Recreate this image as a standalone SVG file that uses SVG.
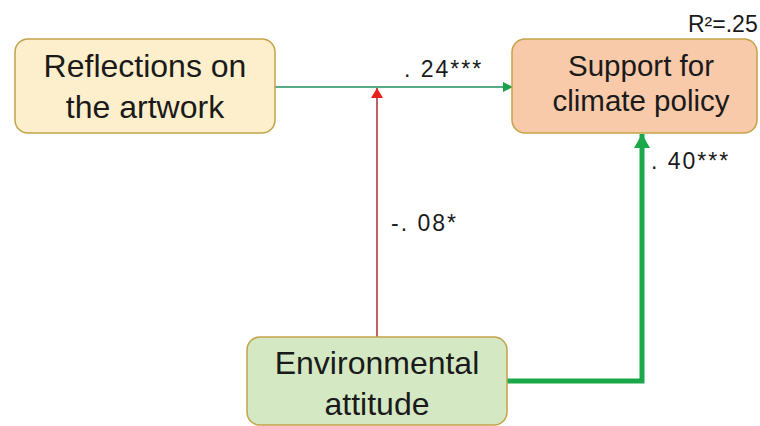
<svg xmlns="http://www.w3.org/2000/svg" width="760" height="426" viewBox="0 0 760 426">
<defs>
<style>
.box{stroke:#c4a24a;stroke-width:1.5}
.t{font-family:"Liberation Sans","Open Sans",Arial,sans-serif;fill:#1a1a1a;text-anchor:middle}
.big{font-size:32px}
.mid{font-size:29.5px}
.lab{font-family:"Liberation Sans","Open Sans",Arial,sans-serif;fill:#1a1a1a;font-size:23px;letter-spacing:2px}
.r2{font-family:"Liberation Sans","Open Sans",Arial,sans-serif;fill:#1a1a1a;font-size:23px}
</style>
<marker id="ag" markerWidth="10" markerHeight="10" refX="9" refY="5" orient="auto" markerUnits="userSpaceOnUse"><path d="M0,0 L10,5 L0,10 Z" fill="#1aa04a"/></marker>
<marker id="ar" markerWidth="10" markerHeight="12" refX="10" refY="6" orient="auto" markerUnits="userSpaceOnUse"><path d="M0,0 L10,6 L0,12 Z" fill="#e8201e"/></marker>
<marker id="agt" markerWidth="14" markerHeight="16" refX="14" refY="8" orient="auto" markerUnits="userSpaceOnUse"><path d="M0,0 L14,8 L0,16 Z" fill="#1aa84a"/></marker>
</defs>
<rect width="760" height="426" fill="#ffffff"/>
<g id="connectors">
<line x1="275" y1="87" x2="512" y2="87" stroke="#1e9060" stroke-width="1.6" marker-end="url(#ag)"/>
<line x1="377" y1="337" x2="377" y2="88" stroke="#b23a3a" stroke-width="1.6" marker-end="url(#ar)"/>
<polyline points="507,381 642,381 642,134" fill="none" stroke="#1aa84a" stroke-width="5" marker-end="url(#agt)"/>
</g>
<g id="reflections">
<rect class="box" x="15" y="39" width="260" height="94" rx="13" fill="#fdefcb"/>
<text class="t big" x="145" y="77">Reflections on</text>
<text class="t big" x="145" y="118">the artwork</text>
</g>
<g id="support">
<rect class="box" x="512" y="39" width="245" height="94" rx="13" fill="#f8caa9"/>
<text class="t mid" x="641" y="76">Support for</text>
<text class="t mid" x="641" y="111">climate policy</text>
<text class="r2" x="688" y="32">R²=.25</text>
</g>
<g id="environmental">
<rect class="box" x="247" y="337" width="260" height="88" rx="13" fill="#d4e8c3"/>
<text class="t big" x="377" y="374">Environmental</text>
<text class="t big" x="377" y="415">attitude</text>
</g>
<g id="labels">
<text class="lab" x="404" y="77">. 24***</text>
<text class="lab" x="391" y="231">-. 08*</text>
<text class="lab" x="651" y="169">. 40***</text>
</g>
</svg>
